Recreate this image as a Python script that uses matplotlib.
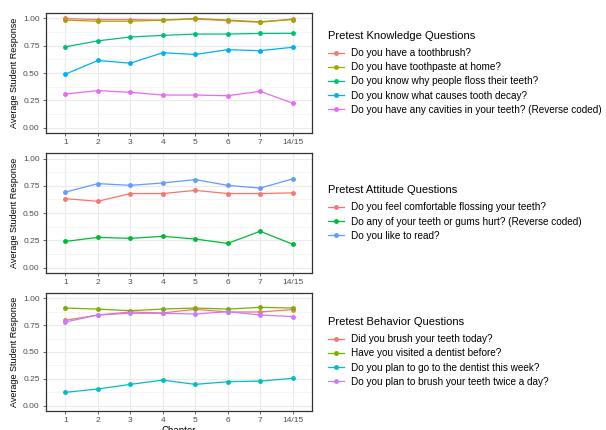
import numpy as np
import matplotlib.pyplot as plt
from matplotlib.ticker import MultipleLocator

plt.rcParams['font.family'] = ['Liberation Sans', 'DejaVu Sans']

chapters = ['1', '2', '3', '4', '5', '6', '7', '14/15']

knowledge_labels = ['Do you have a toothbrush?',
                    'Do you have toothpaste at home?',
                    'Do you know why people floss their teeth?',
                    'Do you know what causes tooth decay?',
                    'Do you have any cavities in your teeth? (Reverse coded)']
knowledge_vals = [
    [1.00, 0.99, 0.99, 0.985, 0.995, 0.98, 0.965, 0.995],
    [0.985, 0.975, 0.975, 0.985, 1.00, 0.985, 0.97, 0.99],
    [0.74, 0.795, 0.83, 0.845, 0.857, 0.857, 0.863, 0.864],
    [0.49, 0.615, 0.59, 0.686, 0.67, 0.714, 0.705, 0.736],
    [0.307, 0.339, 0.323, 0.298, 0.298, 0.292, 0.332, 0.224],
]
knowledge_colors = ['#F8766D', '#A3A500', '#00BF7D', '#00B0F6', '#E76BF3']

attitude_labels = ['Do you feel comfortable flossing your teeth?',
                   'Do any of your teeth or gums hurt? (Reverse coded)',
                   'Do you like to read?']
attitude_vals = [
    [0.632, 0.608, 0.679, 0.679, 0.708, 0.679, 0.679, 0.685],
    [0.24, 0.277, 0.268, 0.287, 0.262, 0.222, 0.333, 0.215],
    [0.692, 0.77, 0.754, 0.776, 0.807, 0.754, 0.729, 0.813],
]
attitude_colors = ['#F8766D', '#00BA38', '#619CFF']

behavior_labels = ['Did you brush your teeth today?',
                   'Have you visited a dentist before?',
                   'Do you plan to go to the dentist this week?',
                   'Do you plan to brush your teeth twice a day?']
behavior_vals = [
    [0.796, 0.845, 0.873, 0.864, 0.898, 0.873, 0.873, 0.895],
    [0.91, 0.90, 0.885, 0.90, 0.91, 0.90, 0.916, 0.91],
    [0.124, 0.155, 0.198, 0.238, 0.198, 0.223, 0.229, 0.254],
    [0.78, 0.845, 0.861, 0.861, 0.854, 0.876, 0.845, 0.83],
]
behavior_colors = ['#F8766D', '#7CAE00', '#00BFC4', '#C77CFF']

panels = [
    ('Pretest Knowledge Questions', knowledge_labels, knowledge_vals, knowledge_colors),
    ('Pretest Attitude Questions', attitude_labels, attitude_vals, attitude_colors),
    ('Pretest Behavior Questions', behavior_labels, behavior_vals, behavior_colors),
]

fig = plt.figure(figsize=(6.06, 4.30), dpi=100)
rects = [[0.0759, 0.6907, 0.439, 0.279],
         [0.0759, 0.365, 0.439, 0.279],
         [0.0759, 0.0442, 0.439, 0.2744]]

x = np.arange(len(chapters))
for rect, (title, labels, vals, colors) in zip(rects, panels):
    ax = fig.add_axes(rect)
    for lab, v, c in zip(labels, vals, colors):
        ax.plot(x, v, color=c, lw=0.9, marker='o', ms=2.5, label=lab)
    ax.set_xlim(-0.6, len(chapters) - 0.4)
    ax.set_ylim(-0.05, 1.05)
    ax.set_xticks(x)
    ax.set_xticklabels(chapters)
    ax.set_yticks([0, 0.25, 0.5, 0.75, 1.0])
    ax.set_yticklabels(['0.00', '0.25', '0.50', '0.75', '1.00'])
    ax.yaxis.set_minor_locator(MultipleLocator(0.125))
    ax.grid(True, which='major', color='#EBEBEB', lw=0.8)
    ax.grid(True, which='minor', axis='y', color='#F2F2F2', lw=0.5)
    ax.set_axisbelow(True)
    ax.tick_params(labelsize=6, colors='#4D4D4D', length=2.5, width=0.6, pad=2)
    ax.tick_params(which='minor', length=0)
    for s in ax.spines.values():
        s.set_color('#333333')
        s.set_linewidth(0.9)
    ax.set_ylabel('Average Student Response', fontsize=6.5, labelpad=3)
    leg = ax.legend(title=title, loc='center left', bbox_to_anchor=(1.045, 0.5),
                    frameon=False, fontsize=7.2, title_fontsize=8,
                    handlelength=1.6, labelspacing=0.42, alignment='left',
                    borderaxespad=0, handletextpad=0.65)
    leg._legend_box.sep = 5

ax.set_xlabel('Chapter', fontsize=7, labelpad=1)

fig.savefig('out.png', dpi=100)
